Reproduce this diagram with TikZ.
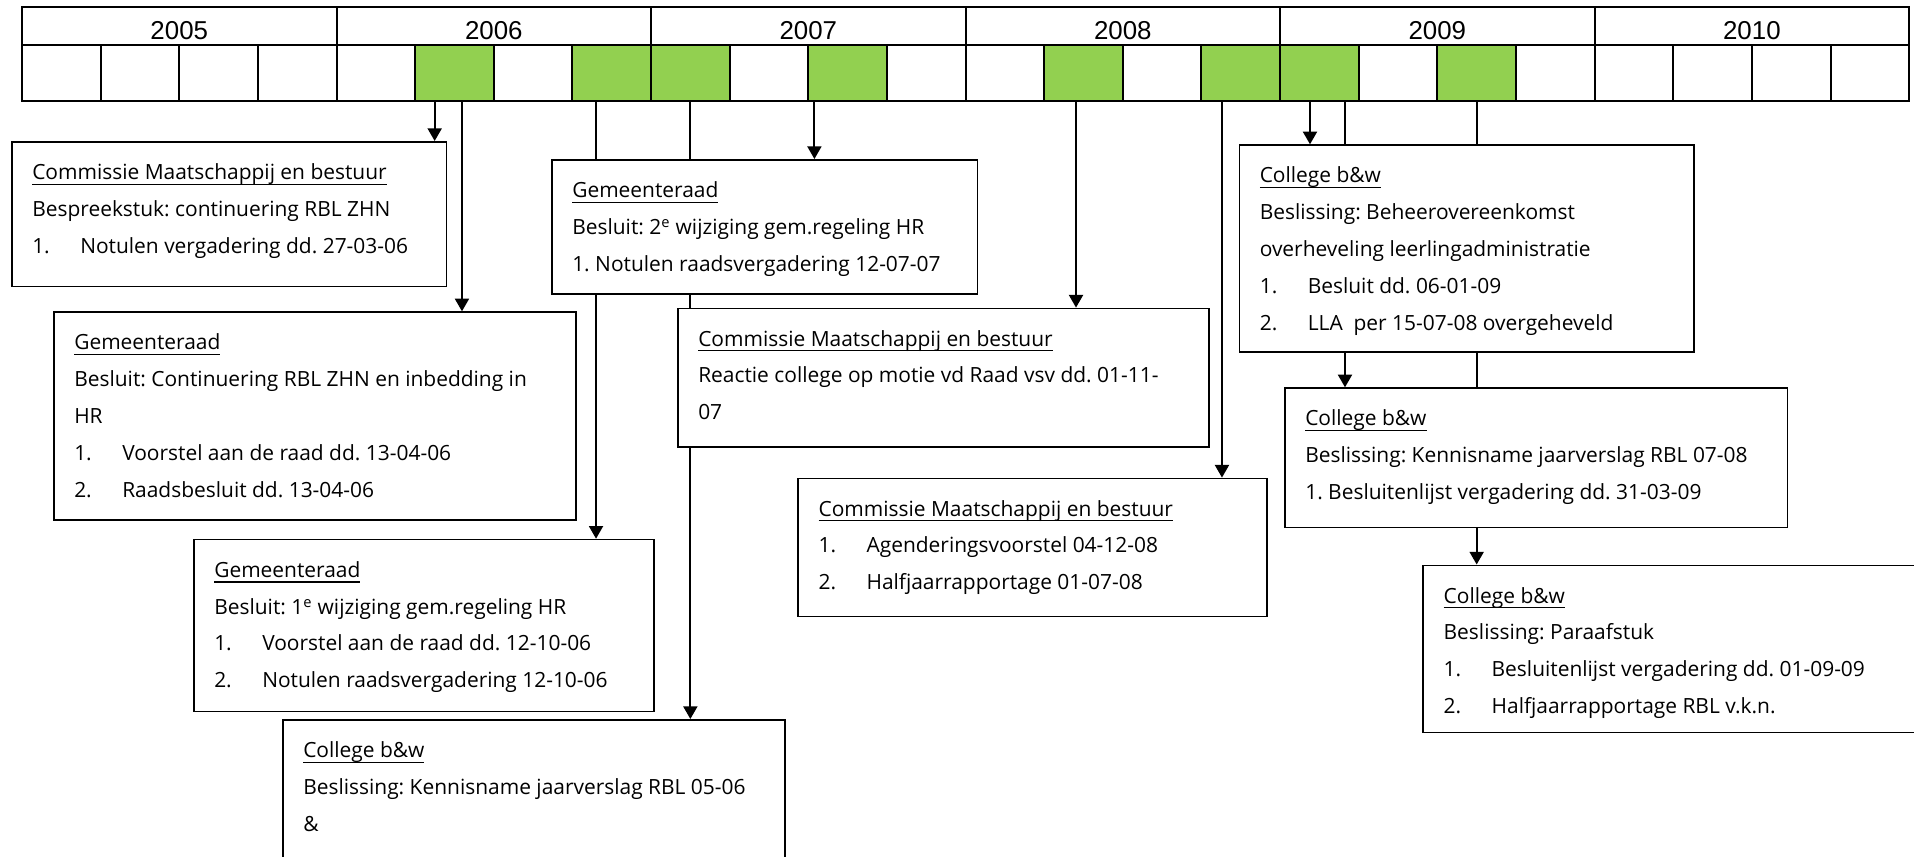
\documentclass[tikz,border=0pt]{standalone}
\usepackage{fontspec}
\setmainfont{Open Sans}
\newfontfamily\yearfam{Liberation Sans}
\usetikzlibrary{arrows.meta,backgrounds}
\definecolor{cellgreen}{HTML}{92D050}
\newcommand{\boxtext}{\fontsize{15.7pt}{27.6pt}\selectfont\frenchspacing}
\newcommand{\yeartext}{\yearfam\fontsize{19.4pt}{23pt}\selectfont}
\newcommand{\hd}[1]{\leavevmode\setbox0\hbox{#1}\rlap{\rule[-4pt]{\wd0}{0.9pt}}\box0}
\newcommand{\itm}[2]{\makebox[36pt][l]{#1}#2}
\newcommand{\lines}[1]{\parbox[t]{380pt}{#1}}
\tikzset{
    yearcell/.style={draw, line width=1.5pt, minimum width=235.9pt, minimum height=28.05pt, inner sep=0pt, text height=19.6pt, text depth=0pt, font=\yeartext},
    qcell/.style={draw, line width=1.5pt, minimum width=58.97pt, minimum height=42.45pt, inner sep=0pt},
    qgreen/.style={qcell, fill=cellgreen},
    eventbox/.style={draw, line width=1.3pt, fill=white, inner sep=0pt, anchor=north west},
    eventtext/.style={anchor=base west, inner sep=0pt, font=\boxtext},
    arrowdown/.style={line width=1.5pt, -{Triangle[length=9.5pt,width=10.5pt]}}
}

\begin{document}
\begin{tikzpicture}[x=0.75pt,y=-0.75pt]
        \useasboundingbox (0,0) rectangle (1914,857);
        \clip (0,0) rectangle (1914,857);

        % Years and quarters
        \foreach \y [count=\i from 0] in {2005,2006,2007,2008,2009,2010}
            \node[yearcell] (y\y) at ({22+314.52*(\i+0.5)},26) {\y};
        \foreach \q in {0,...,23}
            \node[qcell] (q\q) at ({22+78.63*(\q+0.5)},73) {};
        \foreach \q in {5,7,8,10,13,15,16,18}
            \node[qgreen] (q\q) at (q\q) {};

        % 2006
        \node[eventbox, minimum width=325.95pt, minimum height=108.5pt] (commissie1) at (11,141) {};
        \node[eventtext] (commissie1text) at ([shift={(21,38.5)}]commissie1.north west) {\lines{\hd{Commissie Maatschappij en bestuur}\\
            Bespreekstuk: continuering RBL ZHN\\
            \itm{1.}{Notulen vergadering dd. 27-03-06}}};
        \node[eventbox, minimum width=391.5pt, minimum height=156pt] (raad1) at (53,311.3) {};
        \node[eventtext] (raad1text) at ([shift={(21,38.5)}]raad1.north west) {\lines{\hd{Gemeenteraad}\\
            Besluit: Continuering RBL ZHN en inbedding in\\
            HR\\
            \itm{1.}{Voorstel aan de raad dd. 13-04-06}\\
            \itm{2.}{Raadsbesluit dd. 13-04-06}}};
        \node[eventbox, minimum width=345pt, minimum height=129pt] (raad2) at (193,538.7) {};
        \node[eventtext] (raad2text) at ([shift={(21,38.5)}]raad2.north west) {\lines{\hd{Gemeenteraad}\\
            Besluit: 1\textsuperscript{e} wijziging gem.regeling HR\\
            \itm{1.}{Voorstel aan de raad dd. 12-10-06}\\
            \itm{2.}{Notulen raadsvergadering 12-10-06}}};
        \node[eventbox, minimum width=376.5pt, minimum height=150pt] (college1) at (282,719) {};
        \node[eventtext] (college1text) at ([shift={(21,38.5)}]college1.north west) {\lines{\hd{College b\&w}\\
            Beslissing: Kennisname jaarverslag RBL 05-06\\
            \&}};

        % 2007
        \node[eventbox, minimum width=319.2pt, minimum height=100.5pt] (raad3) at (551,159) {};
        \node[eventtext] (raad3text) at ([shift={(21,38.5)}]raad3.north west) {\lines{\hd{Gemeenteraad}\\
            Besluit: 2\textsuperscript{e} wijziging gem.regeling HR\\
            1. Notulen raadsvergadering 12-07-07}};
        \node[eventbox, minimum width=398.4pt, minimum height=104.1pt] (commissie2) at (677,307.6) {};
        \node[eventtext] (commissie2text) at ([shift={(21,38.5)}]commissie2.north west) {\lines{\hd{Commissie Maatschappij en bestuur}\\
            Reactie college op motie vd Raad vsv dd. 01-11-\\
            07}};

        % 2008
        \node[eventbox, minimum width=351.5pt, minimum height=103.5pt] (commissie3) at (797.3,477.6) {};
        \node[eventtext] (commissie3text) at ([shift={(21,38.5)}]commissie3.north west) {\lines{\hd{Commissie Maatschappij en bestuur}\\
            \itm{1.}{Agenderingsvoorstel 04-12-08}\\
            \itm{2.}{Halfjaarrapportage 01-07-08}}};

        % 2009
        \node[eventbox, minimum width=340.9pt, minimum height=155.25pt] (college2) at (1238.5,144.3) {};
        \node[eventtext] (college2text) at ([shift={(21,38.5)}]college2.north west) {\lines{\hd{College b\&w}\\
            Beslissing: Beheerovereenkomst\\
            overheveling leerlingadministratie\\
            \itm{1.}{Besluit dd. 06-01-09}\\
            \itm{2.}{LLA\ \ per 15-07-08 overgeheveld}}};
        \node[eventbox, minimum width=377pt, minimum height=104.55pt] (college3) at (1284,387.3) {};
        \node[eventtext] (college3text) at ([shift={(21,38.5)}]college3.north west) {\lines{\hd{College b\&w}\\
            Beslissing: Kennisname jaarverslag RBL 07-08\\
            1. Besluitenlijst vergadering dd. 31-03-09}};
        \node[eventbox, minimum width=390pt, minimum height=125.25pt] (college4) at (1422.4,564.5) {};
        \node[eventtext] (college4text) at ([shift={(21,38.5)}]college4.north west) {\lines{\hd{College b\&w}\\
            Beslissing: Paraafstuk\\
            \itm{1.}{Besluitenlijst vergadering dd. 01-09-09}\\
            \itm{2.}{Halfjaarrapportage RBL v.k.n.}}};

        % Arrows from the quarters, behind the boxes
        \coordinate (c1) at ([shift={(-19.8,0)}]q5.south);
        \coordinate (c2) at ([shift={(7.5,0)}]q5.south);
        \coordinate (c3) at ([shift={(-15.7,0)}]q7.south);
        \coordinate (c4) at (q8.south);
        \coordinate (c5) at ([shift={(-33.2,0)}]q10.south);
        \coordinate (c6) at ([shift={(-7.5,0)}]q13.south);
        \coordinate (c7) at ([shift={(-18.8,0)}]q15.south);
        \coordinate (c8) at ([shift={(-9.4,0)}]q16.south);
        \coordinate (c9) at ([shift={(25.6,0)}]q16.south);
        \coordinate (c10) at (q18.south);
        \begin{pgfonlayer}{background}
            \draw[arrowdown] (c1) -- (c1 |- commissie1.north);
            \draw[arrowdown] (c2) -- (c2 |- raad1.north);
            \draw[arrowdown] (c3) -- (c3 |- raad2.north);
            \draw[arrowdown] (c4) -- (c4 |- college1.north);
            \draw[arrowdown] (c5) -- (c5 |- raad3.north);
            \draw[arrowdown] (c6) -- (c6 |- commissie2.north);
            \draw[arrowdown] (c7) -- (c7 |- commissie3.north);
            \draw[arrowdown] (c8) -- (c8 |- college2.north);
            \draw[arrowdown] (c9) -- (c9 |- college3.north);
            \draw[arrowdown] (c10) -- (c10 |- college4.north);
        \end{pgfonlayer}
    \end{tikzpicture}
\end{document}
